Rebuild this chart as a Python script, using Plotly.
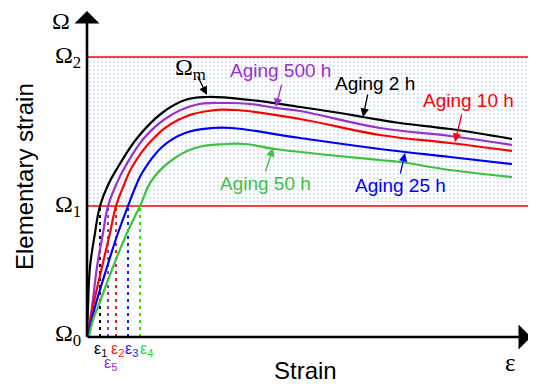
import plotly.graph_objects as go

# ---- data (strain in arbitrary units, elementary strain Ω in arbitrary units) ----
OMEGA1 = 131
OMEGA2 = 280
STRAIN_MAX = 441

black_x = [0, 1, 3, 8, 13, 21, 31, 51, 75, 98, 120, 163, 213, 253, 276, 313, 363, 425]
black_y = [0, 30, 70, 104, 131, 152, 170, 200, 224, 237, 240, 237, 230, 224, 220, 214, 208, 198]

purple_x = [0, 5, 10, 16, 21, 29, 38, 58, 81, 108, 138, 163, 189, 213, 293, 363, 425]
purple_y = [0, 30, 70, 104, 131, 152, 170, 200, 220, 232, 234, 233, 229, 226, 209, 201, 192]

red_x = [1, 6, 15, 23, 29, 37, 45, 65, 91, 121, 148, 213, 293, 363, 425]
red_y = [0, 30, 70, 104, 131, 152, 170, 197, 217, 226, 227, 218, 202, 194, 186]

blue_x = [1, 8, 20, 31, 41, 48, 55, 75, 98, 125, 145, 213, 293, 363, 425]
blue_y = [0, 30, 70, 104, 131, 149, 164, 190, 204, 209, 209, 199, 188, 180, 173]

green_x = [2, 6, 11, 26, 40, 53, 65, 85, 108, 138, 158, 188, 293, 313, 363, 425]
green_y = [0, 17, 30, 70, 104, 131, 157, 177, 189, 193, 193, 188, 177, 175, 167, 160]

eps_x = [13, 21, 29, 41, 53]          # ε1, ε5, ε2, ε3, ε4 (crossing of Ω1)
eps_colors = ["#000000", "#9a2fd2", "#ff1a1a", "#1a1aff", "#22e022"]
eps_labels = ["ε<sub>1</sub>", "ε<sub>5</sub>", "ε<sub>2</sub>", "ε<sub>3</sub>", "ε<sub>4</sub>"]
eps_label_x = [13, 23, 30, 44, 59]
eps_label_y = [-12, -26, -12, -12, -12]

curve_names = ["Aging 2 h", "Aging 500 h", "Aging 10 h", "Aging 25 h", "Aging 50 h"]
curve_colors = ["#000000", "#9a2fd2", "#ff0000", "#0000ff", "#3cc43c"]

# label positions (text) and arrow tail/tip
label_pos = {
    "Aging 2 h": (288, 254),
    "Aging 500 h": (193, 267),
    "Aging 10 h": (381, 237),
    "Aging 25 h": (313, 152),
    "Aging 50 h": (178, 154),
}
arrow_tail = {
    "Aging 2 h": (281, 244),
    "Aging 500 h": (195, 254),
    "Aging 10 h": (375, 224),
    "Aging 25 h": (313, 162),
    "Aging 50 h": (178, 164),
}
arrow_tip = {
    "Aging 2 h": (276, 220),
    "Aging 500 h": (189, 230),
    "Aging 10 h": (368, 195),
    "Aging 25 h": (318, 184),
    "Aging 50 h": (186, 189),
}

fig = go.Figure()

# shaded band between Ω1 and Ω2
fig.add_trace(go.Scatter(
    x=[0, STRAIN_MAX, STRAIN_MAX, 0, 0],
    y=[OMEGA1, OMEGA1, OMEGA2, OMEGA2, OMEGA1],
    fill="toself", mode="lines", line=dict(width=0),
    fillcolor="rgba(0,0,0,0)",
    fillpattern=dict(shape=".", size=4, solidity=0.25, fgcolor="#b3c6ea", bgcolor="white"),
    hoverinfo="skip", showlegend=False))

# Ω1 / Ω2 red lines
for yv in (OMEGA1, OMEGA2):
    fig.add_trace(go.Scatter(x=[0, STRAIN_MAX], y=[yv, yv], mode="lines",
                             line=dict(color="#ff0000", width=1.6),
                             hoverinfo="skip", showlegend=False))

# dotted drop lines
for xv, c in zip(eps_x, eps_colors):
    fig.add_trace(go.Scatter(x=[xv, xv], y=[0, OMEGA1], mode="lines",
                             line=dict(color=c, width=2, dash="3px,4px"),
                             hoverinfo="skip", showlegend=False))

# curves
all_x = [black_x, purple_x, red_x, blue_x, green_x]
all_y = [black_y, purple_y, red_y, blue_y, green_y]
for xs, ys, c, n in zip(all_x, all_y, curve_colors, curve_names):
    fig.add_trace(go.Scatter(x=xs, y=ys, mode="lines", name=n,
                             line=dict(color=c, width=2.2, shape="spline", smoothing=1.2),
                             showlegend=False))

ann = []
# axes with arrows
ann.append(dict(x=0, y=326, ax=0, ay=-1, xref="x", yref="y", axref="x", ayref="y",
                showarrow=True, arrowhead=1, arrowsize=1.6, arrowwidth=2.6, arrowcolor="black", text=""))
ann.append(dict(x=444, y=0, ax=-1, ay=0, xref="x", yref="y", axref="x", ayref="y",
                showarrow=True, arrowhead=1, arrowsize=1.6, arrowwidth=2.6, arrowcolor="black", text=""))

# aging labels + arrows
for n, c in zip(curve_names, curve_colors):
    lx, ly = label_pos[n]
    ann.append(dict(x=lx, y=ly, xref="x", yref="y", text=n, showarrow=False,
                    font=dict(family="Liberation Sans, Arial", size=19, color=c)))
    tx, ty = arrow_tail[n]
    hx, hy = arrow_tip[n]
    ann.append(dict(x=hx, y=hy, ax=tx, ay=ty, xref="x", yref="y", axref="x", ayref="y",
                    text="", showarrow=True, arrowhead=2, arrowsize=1.3, arrowwidth=1.3,
                    arrowcolor=c))

# Ωm label and arrow
ann.append(dict(x=103, y=268, xref="x", yref="y", text="Ω<sub>m</sub>", showarrow=False,
                font=dict(family="Liberation Serif, Times New Roman", size=24, color="black")))
ann.append(dict(x=120, y=242, ax=110, ay=262, xref="x", yref="y", axref="x", ayref="y",
                text="", showarrow=True, arrowhead=2, arrowsize=1.3, arrowwidth=1.3,
                arrowcolor="black"))

# Ω axis labels
serif = "Liberation Serif, Times New Roman"
ann.append(dict(x=-26, y=316, xref="x", yref="y", text="Ω", showarrow=False,
                font=dict(family=serif, size=24, color="black")))
for txt, yv in (("Ω<sub>2</sub>", OMEGA2), ("Ω<sub>1</sub>", OMEGA1), ("Ω<sub>0</sub>", 2)):
    ann.append(dict(x=-4, y=yv, xref="x", yref="y", text=txt, showarrow=False,
                    xanchor="right", font=dict(family=serif, size=24, color="black")))

# ε labels under axis
for t, xv, yv, c in zip(eps_labels, eps_label_x, eps_label_y, eps_colors):
    ann.append(dict(x=xv, y=yv, xref="x", yref="y", text=t, showarrow=False,
                    font=dict(family="Liberation Sans, Arial", size=16, color=c)))

ann.append(dict(x=423, y=-25, xref="x", yref="y", text="ε", showarrow=False,
                font=dict(family=serif, size=25, color="black")))

# axis titles
ann.append(dict(x=218, y=-33, xref="x", yref="y", text="Strain", showarrow=False,
                font=dict(family="Liberation Sans, Arial", size=24, color="black")))
ann.append(dict(x=-63, y=160, xref="x", yref="y", text="Elementary strain", showarrow=False,
                textangle=-90, font=dict(family="Liberation Sans, Arial", size=24, color="black")))

# page body has an 8px margin: figure is 528x376 and ranges are set so the
# drawing lands where the reference has it
fig.update_layout(
    width=528, height=376,
    margin=dict(l=0, r=0, t=0, b=0),
    paper_bgcolor="white", plot_bgcolor="white",
    xaxis=dict(range=[-79, 449], visible=False, fixedrange=True),
    yaxis=dict(range=[-47, 329], visible=False, fixedrange=True),
    annotations=ann,
    showlegend=False,
)

fig.write_html("out.html")
